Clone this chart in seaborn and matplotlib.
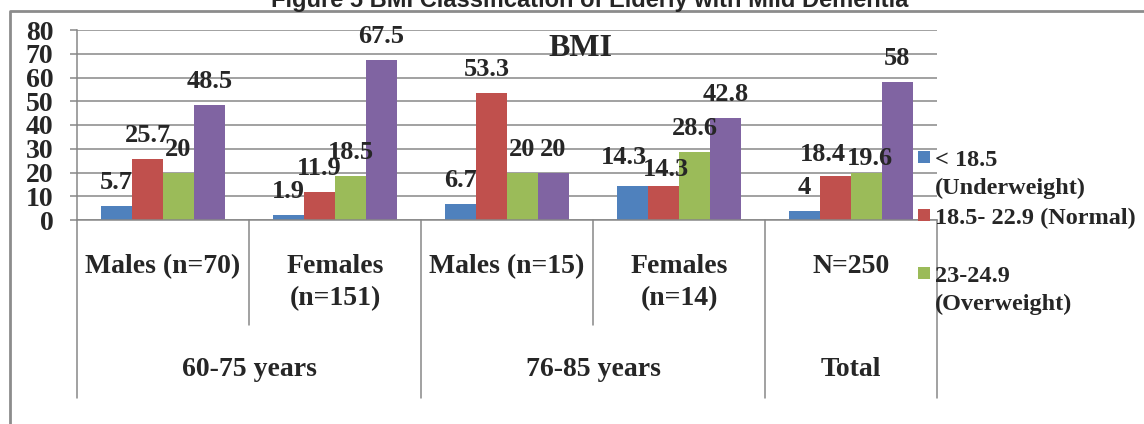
import numpy as np
import pandas as pd
import matplotlib
matplotlib.use("Agg")
import matplotlib.pyplot as plt
from matplotlib.lines import Line2D
from matplotlib.patches import Rectangle
from matplotlib.transforms import blended_transform_factory
import seaborn as sns

# ---- data ----
subgroups = ["Males (n=70)", "Females\n(n=151)", "Males (n=15)", "Females\n(n=14)", "N=250"]
age_groups = ["60-75 years", "76-85 years", "Total"]
age_group_sizes = [2, 2, 1]

series_names = ["< 18.5 (Underweight)", "18.5- 22.9 (Normal)",
                "23-24.9 (Overweight)", "≥ 25 (Obese)"]
legend_labels = ["< 18.5\n(Underweight)", "18.5- 22.9 (Normal)", "23-24.9\n(Overweight)"]

underweight = [5.7, 1.9, 6.7, 14.3, 4]
normal = [25.7, 11.9, 53.3, 14.3, 18.4]
overweight = [20, 18.5, 20, 28.6, 19.6]
obese = [48.5, 67.5, 20, 42.8, 58]
all_values = [underweight, normal, overweight, obese]

colors = ["#4F81BD", "#C0504D", "#9BBB59", "#8064A2"]
GRID = "#878787"

# small pixel nudges for labels that would collide (subgroup, series) -> (dx, dy)
label_nudges = {(3, 0): (-9, 5), (3, 1): (2, -7), (4, 1): (-13, -2), (4, 2): (3, -9), (2, 1): (-5, 0)}

rows = []
for s, vals in zip(series_names, all_values):
    for g, v in zip(subgroups, vals):
        rows.append({"group": g, "series": s, "value": v})
df = pd.DataFrame(rows)

# ---- figure ----
sns.set_style("white")
plt.rcParams["font.family"] = ["Liberation Serif", "DejaVu Serif"]
plt.rcParams["font.weight"] = "bold"

W, H = 1144, 424
fig = plt.figure(figsize=(W / 100, H / 100), dpi=100)


def fx(x):
    return x / W


def fy(y):
    return 1 - y / H


def stacked_text(x, y_px, text, step_px, transform, **kw):
    """Draw a multi-line label line by line, first baseline at y_px."""
    for k, line in enumerate(text.split("\n")):
        fig.text(x, fy(y_px + k * step_px), line, transform=transform,
                 va="baseline", **kw)


ax = fig.add_axes([fx(77), fy(220), fx(937) - fx(77), fy(30) - fy(220)])

sns.barplot(data=df, x="group", y="value", hue="series", order=subgroups,
            hue_order=series_names, palette=colors, width=0.72, gap=0,
            saturation=1, linewidth=0, errorbar=None, legend=False, ax=ax)

ax.set_xlim(-0.5, len(subgroups) - 0.5)
ax.set_ylim(0, 80)
ax.set_yticks(range(0, 81, 10))
ax.yaxis.grid(True, color=GRID, linewidth=1.1)
ax.set_axisbelow(True)
for side in ["top", "right"]:
    ax.spines[side].set_visible(False)
for side in ["left", "bottom"]:
    ax.spines[side].set_color(GRID)
    ax.spines[side].set_linewidth(1.1)
ax.tick_params(axis="y", length=5, width=1.1, color=GRID, pad=12, labelsize=20,
               left=True)
ax.tick_params(axis="x", bottom=False, labelbottom=False)
ax.set_xlabel("")
ax.set_ylabel("")

# value labels above bars
for si, (cont, vals) in enumerate(zip(ax.containers, all_values)):
    for gi, (bar, v) in enumerate(zip(cont, vals)):
        dx, dy = label_nudges.get((gi, si), (0, 0))
        ax.annotate(f"{v:g}", xy=(bar.get_x() + bar.get_width() / 2, v),
                    xytext=(dx * 0.72, (17 + dy) * 0.72), textcoords="offset points",
                    ha="center", va="baseline", fontsize=19, fontweight="bold",
                    annotation_clip=False)

# two-level category axis
trans = blended_transform_factory(ax.transData, fig.transFigure)
start = 0
outer_edges = [-0.5]
inner_edges = []
for size in age_group_sizes:
    for k in range(1, size):
        inner_edges.append(start + k - 0.5)
    outer_edges.append(start + size - 0.5)
    start += size
for x in inner_edges:
    fig.add_artist(Line2D([x, x], [fy(220), fy(325)], transform=trans,
                          color=GRID, lw=1.1))
for x in outer_edges:
    fig.add_artist(Line2D([x, x], [fy(220), fy(398)], transform=trans,
                          color=GRID, lw=1.1))

for i, lab in enumerate(subgroups):
    stacked_text(i, 273, lab, 32, trans, ha="center", fontsize=20, fontweight="bold")

start = 0
for lab, size in zip(age_groups, age_group_sizes):
    fig.text(start + (size - 1) / 2, fy(376), lab, transform=trans, ha="center",
             va="baseline", fontsize=20, fontweight="bold")
    start += size

# inner chart title
fig.text(fx(580), fy(56), "BMI", ha="center", va="baseline", fontsize=23,
         fontweight="bold")

# figure caption, partly cropped by the top edge
fig.text(fx(590), fy(6.5), "Figure 5 BMI Classification of Elderly with Mild Dementia",
         ha="center", va="baseline", fontsize=17, fontweight="bold",
         family="Liberation Sans")

# outer chart frame
fig.add_artist(Line2D([fx(10), fx(10), 1.0], [0.0, fy(10.5), fy(10.5)],
                      color="#8c8c8c", lw=2.0))

# legend
for i, (lab, col) in enumerate(zip(legend_labels, colors)):
    yc = 157 + 58 * i
    fig.add_artist(Rectangle((fx(918), fy(yc + 6)), 12 / W, 12 / H,
                             transform=fig.transFigure, facecolor=col, edgecolor="none"))
    stacked_text(fx(935), yc + 9, lab, 28, fig.transFigure, ha="left",
                 fontsize=17.5, fontweight="bold")

fig.savefig("out.png", dpi=100)
